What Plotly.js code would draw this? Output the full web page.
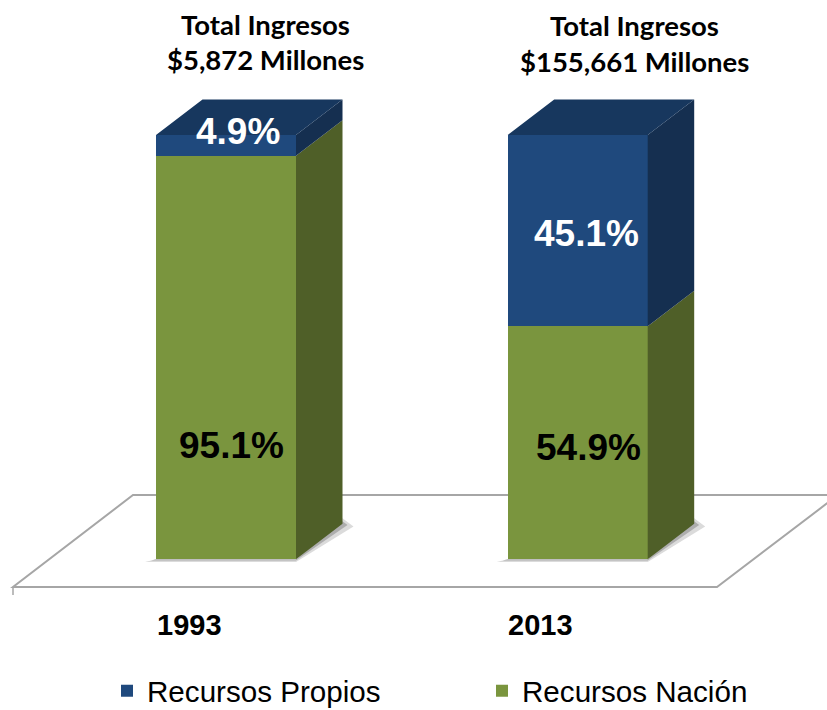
<!DOCTYPE html>
<html><head><meta charset="utf-8">
<script src="https://cdn.plot.ly/plotly-3.0.1.min.js"></script>
<style>html,body{margin:0;padding:0;background:#fff;overflow:hidden}#c{width:827px;height:710px}</style>
</head><body><div id="c"></div>
<script>
const years = ['1993', '2013'];
const recursosNacion = [95.1, 54.9];
const recursosPropios = [4.9, 45.1];
const totals = ['$5,872 Millones', '$155,661 Millones'];
const totalHeading = 'Total Ingresos';
const nameN = 'Recursos Nación', nameP = 'Recursos Propios';

const W = 827, H = 710;
const C = {gFront:'#7A953E', gSide:'#4F5F28', bFront:'#1F497D', bSide:'#152F50', bTop:'#17375E'};
// axis geometry
const unitX = 351.7, unitY = 4.243, x0Px = 226, y0Px = 559.3;
const xr = [-x0Px/unitX, (W-x0Px)/unitX], yr = [(y0Px-H)/unitY, y0Px/unitY];
const dataX = px => (px-x0Px)/unitX, dataY = py => (y0Px-py)/unitY;
const halfW = 70/unitX, dX = 46.5/unitX, dY = 35.5/unitY;
const idx = years.map((_, i) => i);

function faces(fn){ const xs=[], ys=[]; idx.forEach(i=>{ const f=fn(i); f.forEach(p=>{xs.push(p[0]);ys.push(p[1]);}); xs.push(null);ys.push(null);}); return {x:xs,y:ys}; }
const face = (pts,color) => ({type:'scatter',mode:'lines',x:pts.x,y:pts.y,fill:'toself',fillcolor:color,line:{width:0,color:color},showlegend:false,hoverinfo:'skip',connectgaps:false});
const sideOf = (i,a,b) => { const r=i+halfW; return [[r,a],[r+dX,a+dY],[r+dX,b+dY],[r,b],[r,a]]; };

const greenSide = faces(i=>sideOf(i,0,recursosNacion[i]));
const blueSide = faces(i=>sideOf(i,recursosNacion[i],recursosNacion[i]+recursosPropios[i]));
const topFace = faces(i=>{ const t=recursosNacion[i]+recursosPropios[i], l=i-halfW, r=i+halfW; return [[l,t],[r,t],[r+dX,t+dY],[l+dX,t+dY],[l,t]]; });

const traces = [
 {type:'bar',name:nameN,legend:'legend2',x:idx,y:recursosNacion,width:2*halfW,marker:{color:C.gFront,line:{width:0}},hoverinfo:'skip'},
 {type:'bar',name:nameP,legend:'legend',x:idx,y:recursosPropios,width:2*halfW,marker:{color:C.bFront,line:{width:0}},hoverinfo:'skip'},
 face(greenSide,C.gSide), face(blueSide,C.bSide), face(topFace,C.bTop)
];

const floorPath = `M${dataX(13)},${dataY(587)} L${dataX(717)},${dataY(587)} L${dataX(838)},${dataY(495)} L${dataX(133)},${dataY(495)} Z`;
const shapes = [
 {type:'path',layer:'below',path:floorPath,line:{color:'#A6A6A6',width:2},fillcolor:'rgba(0,0,0,0)'},
 {type:'line',layer:'below',x0:dataX(13),x1:dataX(13),y0:dataY(587),y1:dataY(595),line:{color:'#A6A6A6',width:1.5}}
];
idx.forEach(i=>{ const r=i+halfW,l=i-halfW;
 [[11,'rgba(90,90,90,0.22)'],[5,'rgba(90,90,90,0.35)']].forEach(([s,c])=>{
  const sx=s/unitX, sy=s/4/unitY;
  shapes.push({type:'path',layer:'below',line:{width:0},fillcolor:c,
   path:`M${l-sx},${-sy} L${r},${-sy} L${r+dX+sx},${dY-sy} L${r+dX},${dY+sy*2} L${r},0 L${l},0 Z`});
 });
});

const ann = (px,py,text,size,color,family,bold) => ({xref:'paper',yref:'paper',x:px/W,y:1-py/H,xanchor:'center',yanchor:'middle',showarrow:false,
 text:bold?`<b>${text}</b>`:text,font:{family,size,color}});
const ARIAL='Liberation Sans, Arial, sans-serif', CAL='Lato, sans-serif';
const pct = v => v.toFixed(1)+'%';
const annotations = [
 ann(265,25,totalHeading,27.5,'#000',CAL,true), ann(265,59,totals[0],27.5,'#000',CAL,true),
 ann(634,26,totalHeading,27.5,'#000',CAL,true), ann(634,61,totals[1],27.5,'#000',CAL,true),
 ann(231,445,pct(recursosNacion[0]),37,'#000',ARIAL,true),
 ann(588,447,pct(recursosNacion[1]),37,'#000',ARIAL,true),
 ann(238,132,pct(recursosPropios[0]),37,'#fff',ARIAL,true),
 ann(586,233,pct(recursosPropios[1]),37,'#fff',ARIAL,true),
 ann(189,625,years[0],29,'#000',ARIAL,true),
 ann(540,625,years[1],29,'#000',ARIAL,true)
];
const legendBox = px => ({orientation:'h',xref:'container',yref:'container',x:px/W,xanchor:'left',y:1-691/H,yanchor:'middle',
  font:{family:ARIAL,size:29.6,color:'#000'},bgcolor:'rgba(0,0,0,0)'});

const layout = {
 width:W,height:H,margin:{l:0,r:0,t:0,b:0,autoexpand:false},paper_bgcolor:'#fff',plot_bgcolor:'#fff',barmode:'stack',
 xaxis:{range:xr,visible:false,fixedrange:true},yaxis:{range:yr,visible:false,fixedrange:true},
 shapes,annotations,showlegend:true,
 legend:legendBox(107),legend2:legendBox(482)
};
Plotly.newPlot('c',traces,layout,{displayModeBar:false,staticPlot:true});
</script></body></html>
